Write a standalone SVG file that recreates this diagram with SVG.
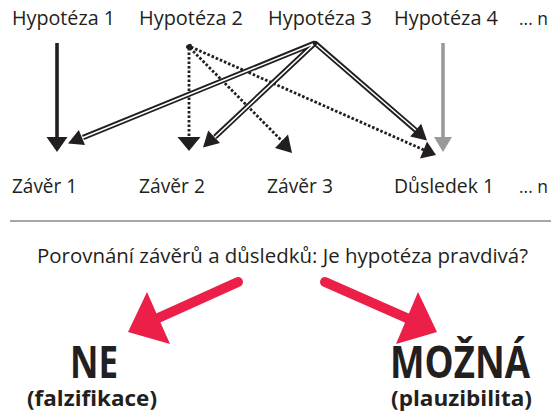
<svg xmlns="http://www.w3.org/2000/svg" width="551" height="415" viewBox="0 0 551 415">
<style>
.t{font-family:"Open Sans","Liberation Sans",sans-serif;font-size:20.5px;fill:#231f20}
.n{font-family:"Open Sans","Liberation Sans",sans-serif;font-size:18px;fill:#231f20}
.b{font-family:"Open Sans","Liberation Sans",sans-serif;font-weight:bold;fill:#231f20}
.solid{stroke:#231f20;stroke-width:3.6;fill:none}
.gray{stroke:#9a9a9a;stroke-width:3.6;fill:none}
.dot{stroke:#231f20;stroke-width:2.8;stroke-dasharray:2.6 1.9;fill:none}
.dbo{stroke:#231f20;stroke-width:5.2;fill:none;stroke-linecap:butt}
.dbi{stroke:#fff;stroke-width:1.6;fill:none}
.head{fill:#231f20}
.red{stroke:#ec1f48;stroke-width:10;stroke-linecap:round;fill:none}
.redh{fill:#ec1f48}
</style>
<rect width="551" height="415" fill="#fff"/>
<g id="hypotheses">
<g id="h1"><text class="t" x="12" y="25" textLength="103" lengthAdjust="spacingAndGlyphs">Hypotéza 1</text></g>
<g id="h2"><text class="t" x="139" y="25" textLength="104" lengthAdjust="spacingAndGlyphs">Hypotéza 2</text></g>
<g id="h3"><text class="t" x="268" y="25" textLength="104" lengthAdjust="spacingAndGlyphs">Hypotéza 3</text></g>
<g id="h4"><text class="t" x="394" y="25" textLength="104" lengthAdjust="spacingAndGlyphs">Hypotéza 4</text></g>
<g id="hn"><text class="n" x="519" y="25" textLength="29" lengthAdjust="spacingAndGlyphs">... n</text></g>
</g>
<g id="conclusions">
<g id="z1"><text class="t" x="12" y="193" textLength="65" lengthAdjust="spacingAndGlyphs">Závěr 1</text></g>
<g id="z2"><text class="t" x="139" y="193" textLength="66" lengthAdjust="spacingAndGlyphs">Závěr 2</text></g>
<g id="z3"><text class="t" x="267" y="193" textLength="66" lengthAdjust="spacingAndGlyphs">Závěr 3</text></g>
<g id="d1"><text class="t" x="394" y="193" textLength="100" lengthAdjust="spacingAndGlyphs">Důsledek 1</text></g>
<g id="dn"><text class="n" x="519" y="193" textLength="29" lengthAdjust="spacingAndGlyphs">... n</text></g>
</g>
<g id="connectors">
<line class="solid" x1="57" y1="43" x2="57" y2="139"/>
<polygon class="head" points="46.5,137 67.5,137 57,152"/>
<line class="gray" x1="443" y1="43" x2="443" y2="139"/>
<polygon fill="#9a9a9a" points="434,137 452,137 443,152"/>
<ellipse cx="189" cy="46.5" rx="3.2" ry="2.2" transform="rotate(-30 189 46.5)" fill="#231f20"/>
<line class="dot" x1="189" y1="48" x2="189" y2="138"/>
<polygon class="head" points="177.5,137 200.5,137 189,151"/>
<line class="dot" x1="190" y1="48" x2="283" y2="142"/>
<polygon class="head" points="275,148 288,134.5 292,153"/>
<line class="dot" x1="191" y1="47" x2="424" y2="150"/>
<polygon class="head" points="420,158.5 427,141.5 436,155"/>
<path class="dbo" d="M315,43 L83,137.5 M315,43 L215,137 M315,43 L416,130.5"/>
<path class="dbi" d="M313,44 L79,139.2 M313.5,44.5 L212.5,139.5 M316.5,44.5 L418.5,132.5"/>
<polygon class="head" points="68,143.5 78.8,130 85,145"/>
<polygon class="head" points="203,147.5 208.2,130.6 220,143"/>
<polygon class="head" points="427,140.5 410.2,136.5 421.2,123.8"/>
<circle cx="315" cy="43" r="2.2" fill="#231f20"/>
</g>
<line x1="10" y1="221" x2="551" y2="221" stroke="#8a8a8a" stroke-width="1.6"/>
<g id="question"><text class="t" x="37" y="263" textLength="491" lengthAdjust="spacingAndGlyphs">Porovnání závěrů a důsledků: Je hypotéza pravdivá?</text></g>
<g id="red-arrows">
<line class="red" x1="238" y1="282" x2="156" y2="319"/>
<polygon class="redh" points="128,332 147,292 170,344"/>
<line class="red" x1="325" y1="282" x2="409" y2="319"/>
<polygon class="redh" points="437,332 418,292 396,344"/>
</g>
<g id="ne">
<text class="b" transform="translate(70 378) scale(0.8 1)" x="0" y="0" font-size="45" textLength="60" lengthAdjust="spacingAndGlyphs">NE</text>
<text class="b" x="27" y="406" font-size="21" textLength="130" lengthAdjust="spacingAndGlyphs">(falzifikace)</text>
</g>
<g id="mozna">
<text class="b" transform="translate(390 378) scale(0.8 1)" x="0" y="0" font-size="45" textLength="175" lengthAdjust="spacingAndGlyphs">MOŽNÁ</text>
<text class="b" x="391" y="406" font-size="21" textLength="141" lengthAdjust="spacingAndGlyphs">(plauzibilita)</text>
</g>
</svg>
